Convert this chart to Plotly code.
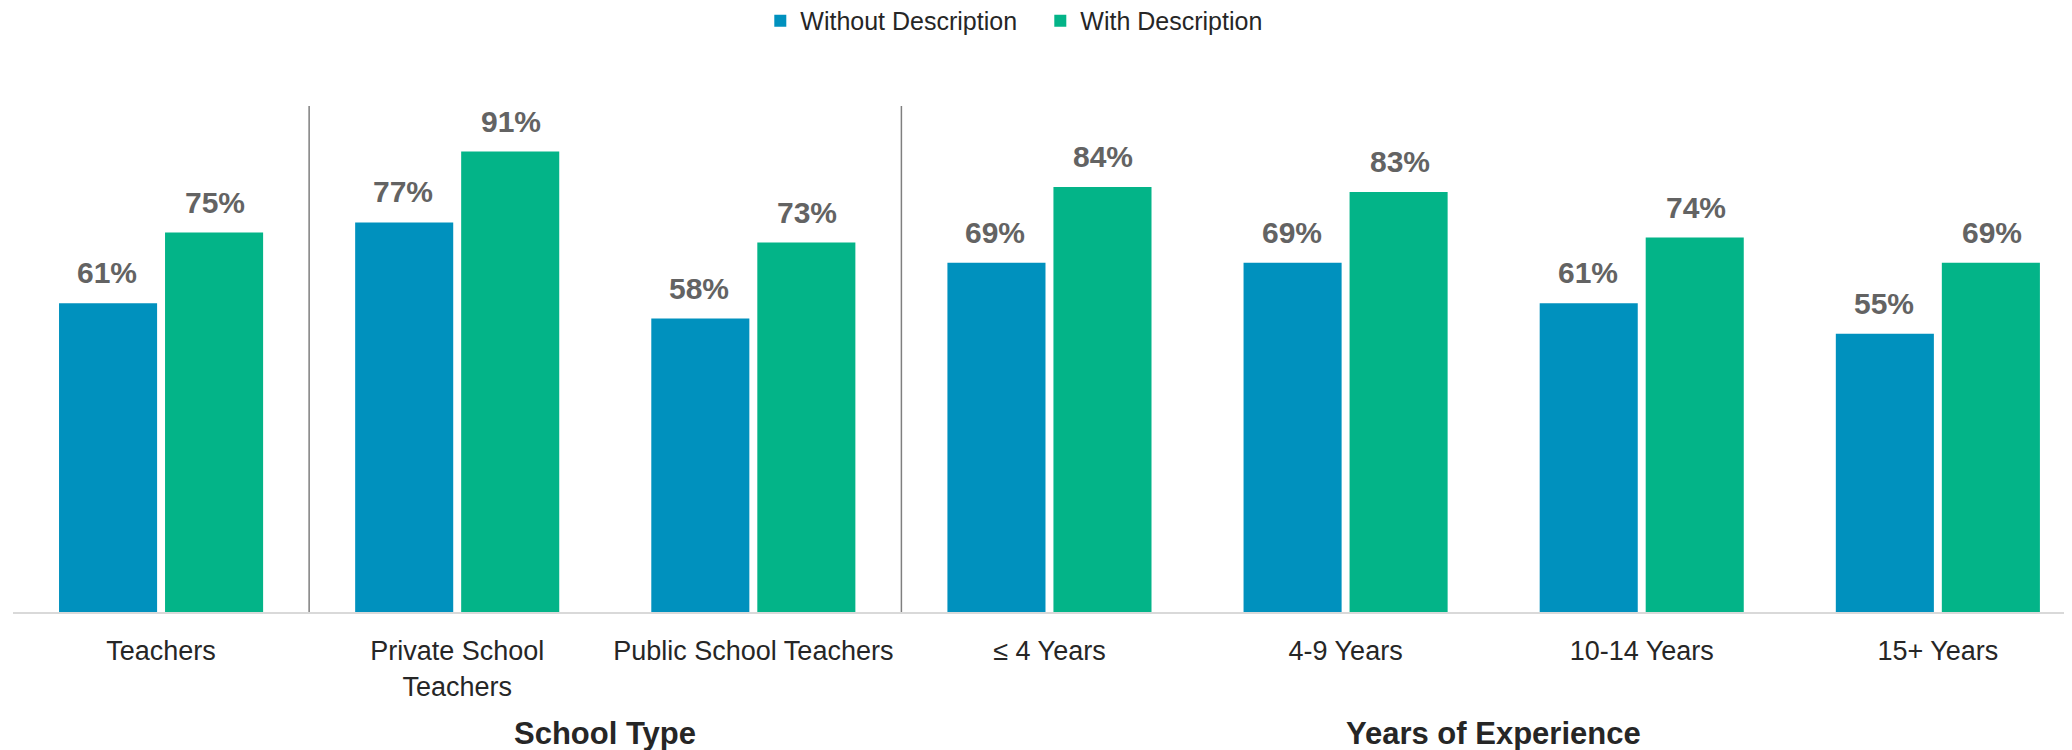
import plotly.graph_objects as go

categories = ["Teachers", "Private School<br>Teachers", "Public School Teachers",
              "≤ 4 Years", "4-9 Years", "10-14 Years", "15+ Years"]
without_desc = [61, 77, 58, 69, 69, 61, 55]
with_desc = [75, 91, 73, 84, 83, 74, 69]
series_names = ["Without Description", "With Description"]
group_titles = ["School Type", "Years of Experience"]

blue = "#0091BE"
green = "#03B488"
label_color = "#636363"

fig = go.Figure()
fig.add_trace(go.Bar(x=categories, y=without_desc, name=series_names[0],
                     marker=dict(color=blue, line=dict(width=0))))
fig.add_trace(go.Bar(x=categories, y=with_desc, name=series_names[1],
                     marker=dict(color=green, line=dict(width=0))))

# value labels above bars
for vals, shift in [(without_desc, -54), (with_desc, 54)]:
    for c, v in zip(categories, vals):
        fig.add_annotation(x=c, y=v, text=f"{v}%", showarrow=False,
                           xshift=shift, yshift=12, yanchor="bottom",
                           font=dict(family="Liberation Sans, Arial", size=30,
                                     color=label_color, weight="bold"))

# separators between groups
for xs in [0.5, 2.5]:
    fig.add_shape(type="line", xref="x", yref="y", x0=xs, x1=xs, y0=0, y1=100,
                  line=dict(color="#7F7F7F", width=1.5))

# group titles
for xc, t in zip([1.5, 4.5], group_titles):
    fig.add_annotation(x=xc, xref="x", y=-0.278, yref="paper", text=f"<b>{t}</b>",
                       showarrow=False, yanchor="bottom",
                       font=dict(family="Liberation Sans, Arial", size=31, color="#262626"))

# page body has an 8px margin, so margins are a bit smaller here
fig.update_layout(
    width=2072, height=750,
    barmode="group", bargap=0.284, bargroupgap=0.075,
    plot_bgcolor="white", paper_bgcolor="white",
    margin=dict(l=5, r=0, t=98, b=146, autoexpand=False),
    font=dict(family="Liberation Sans, Arial", color="#262626"),
    legend=dict(orientation="h", x=0.497, xanchor="center", y=1.168, yanchor="middle",
                font=dict(size=25, color="#262626"), itemwidth=30,
                entrywidth=235, traceorder="normal"),
    xaxis=dict(range=[-0.5, 6.48], showline=True, linecolor="#D9D9D9", linewidth=2,
               ticks="", tickfont=dict(size=27, color="#262626"), ticklabelstandoff=14,
               showgrid=False, automargin=False),
    yaxis=dict(range=[0, 100], visible=False, showgrid=False, automargin=False),
)

fig.write_html("out.html")
